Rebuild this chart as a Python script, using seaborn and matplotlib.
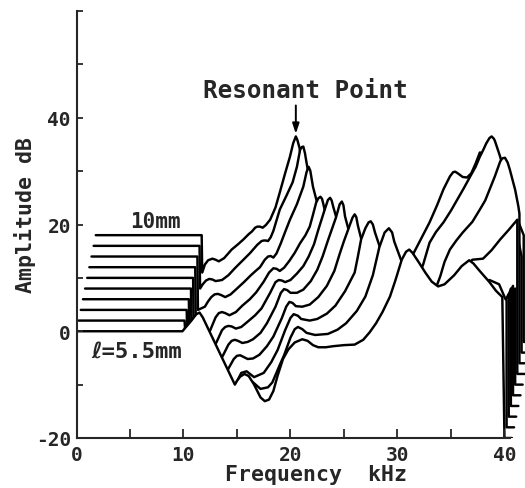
import matplotlib
matplotlib.use("Agg")
import matplotlib.pyplot as plt
import pandas as pd
import seaborn as sns

# ---- data: stacked waterfall curves as drawn (frequency kHz, amplitude dB) ----
lengths_mm = [5.5, 6.0, 6.5, 7.0, 7.5, 8.0, 8.5, 9.0, 9.5, 10.0]

freq_55 = [0, 9.9, 10.7, 11.2, 11.5, 11.8, 14.8, 15.0, 15.3, 15.7, 16.1, 16.6, 17.2, 17.6, 18.0, 18.4,
           18.8, 19.3, 19.8, 20.4, 21.1, 21.6, 22.1, 22.6, 23.3, 24.0, 25.0, 26.0, 26.8, 27.4, 28.0,
           28.6, 29.3, 29.8, 30.4, 30.8, 31.1, 31.4, 32.0, 32.6, 33.2, 33.8, 34.4, 35.3, 36.0, 36.7,
           37.1, 37.6, 38.6, 39.2, 39.8, 40.0, 40.7]
amp_55 = [0, 0, 1.9, 3.2, 3.5, 2.6, -10, -9.3, -8.5, -8.0, -8.4, -10.0, -12.4, -13.1, -12.8, -11.2,
          -8.3, -5.2, -3.4, -2.1, -1.5, -1.8, -2.6, -3.0, -3.0, -2.8, -2.6, -2.5, -1.6, -0.2, 1.5,
          3.6, 6.5, 9.5, 13.4, 14.9, 15.3, 14.7, 12.9, 11.0, 9.3, 8.4, 8.8, 10.5, 12.2, 13.3,
          12.7, 11.5, 9.2, 7.6, 6.4, -20, -20]

freq_60 = [0.2, 10.1, 10.15, 14.8, 15.3, 15.8, 16.4, 17.2, 17.9, 18.3, 18.6, 19.0, 19.4, 20.0, 20.4,
           20.7, 21.1, 21.5, 22.3, 23.5, 24.4, 25.2, 26.2, 27.0, 27.7, 28.3, 28.8, 29.2, 29.5, 29.7,
           30.4, 31.5, 34.0, 36.5, 37.6, 38.6, 39.5, 40.1, 40.2, 40.2, 40.9]
amp_60 = [2, 2, 0.3, -12, -9.5, -8.6, -9.4, -10.8, -10.5, -9.6, -8.2, -6.3, -4.5, -1.2, 0.4,
          0.8, 0.4, -0.3, -0.7, -0.5, 0.3, 1.5, 3.8, 6.5, 10.5, 15.7, 18.5, 19.3, 18.5, 16.8,
          13.0, 6, 4, 7, 8.8, 9.6, 8.8, 6.0, 5.8, -18, -18]

freq_65 = [0.4, 10.3, 10.35, 14.5, 14.9, 15.4, 15.9, 16.6, 17.5, 18.2, 18.8, 19.5, 20.0, 20.3, 20.7,
           21.0, 21.8, 22.5, 23.4, 24.2, 25.1, 26.0, 26.3, 26.6, 27.0, 27.3, 27.5, 27.7, 27.9, 28.4,
           29.5, 32.0, 36.0, 40.0, 40.4, 40.4, 41.1]
amp_65 = [4, 4, -1, -12.5, -9.8, -7.8, -7.5, -8.6, -7.8, -5.8, -3.5, 0.2, 2.5, 3.2, 2.9,
          2.3, 2.0, 2.3, 3.3, 4.8, 7.5, 11, 14, 17.2, 19.3, 20.4, 20.6, 20.0, 18.5, 15.5,
          6, 1, 3, 5.5, 7, -16, -16]

freq_70 = [0.6, 10.5, 10.55, 13.6, 14.2, 14.7, 15.0, 15.3, 15.6, 16.0, 16.5, 17.1, 17.8, 18.4, 19.2,
           19.6, 19.9, 20.2, 20.5, 21.1, 21.8, 22.6, 23.4, 24.1, 24.6, 25.0, 25.4, 25.8, 26.0, 26.15,
           26.3, 26.8, 28.0, 31.0, 35.0, 38.0, 40.2, 40.6, 40.6, 41.3]
amp_70 = [6, 6, -1, -9.5, -7.0, -5.2, -4.6, -4.5, -4.8, -5.2, -5.1, -4.4, -2.8, -1.0, 2.5,
          4.6, 5.5, 5.3, 4.7, 4.6, 5.0, 6.4, 8.5, 11.3, 14.5, 16.9, 19.1, 21.3, 21.9, 21.4,
          19.8, 15.8, 8, 2, 2, 4, 5.5, 8, -14, -14]

freq_75 = [0.8, 10.7, 10.75, 13.0, 13.7, 14.2, 14.5, 14.8, 15.1, 15.5, 16.0, 16.5, 17.2, 17.8, 18.6,
           19.1, 19.4, 19.7, 20.0, 20.6, 21.2, 21.9, 22.5, 23.0, 23.5, 24.25, 24.6, 24.8, 24.95, 25.1,
           25.5, 26.5, 29.0, 33.0, 37.0, 40.0, 40.8, 40.8, 41.5]
amp_75 = [8, 8, -1, -7, -4.5, -2.5, -1.8, -1.6, -1.8, -2.2, -2.0, -1.5, -0.3, 1.5, 4.6,
          7.2, 7.9, 7.7, 7.2, 7.2, 7.8, 9.4, 11.5, 14.0, 17.0, 21.3, 23.8, 24.3, 23.6, 21.5,
          18.5, 12, 3, 1, 3, 5, 8.5, -12, -12]

freq_80 = [1.0, 10.9, 10.95, 12.5, 13.1, 13.6, 13.9, 14.2, 14.5, 14.9, 15.4, 16.0, 16.7, 17.3, 18.1,
           18.6, 18.9, 19.2, 19.5, 20.0, 20.6, 21.2, 21.7, 22.2, 22.6, 23.2, 23.5, 23.7, 23.85, 24.0,
           24.4, 25.5, 28.0, 31.0, 35.0, 38.0, 40.0, 41.0, 41.0, 41.7]
amp_80 = [10, 10, -1, -4, -2.0, 0.2, 0.8, 1.0, 0.9, 0.5, 0.8, 1.8, 3.0, 4.3, 7.2,
          9.2, 9.6, 9.5, 9.2, 9.6, 10.8, 12.2, 14.0, 16.3, 19.0, 22.8, 24.6, 25.0, 24.5, 23.3,
          20.5, 10, 1, -1, 2, 4, 5, 8, -10, -10]

freq_85 = [1.2, 11.1, 11.15, 12.0, 12.5, 13.0, 13.3, 13.6, 13.9, 14.3, 14.9, 15.5, 16.2, 16.8, 17.5,
           18.0, 18.4, 18.7, 19.0, 19.4, 19.9, 20.4, 20.9, 21.4, 21.8, 22.1, 22.4, 22.6, 22.8, 22.95,
           23.1, 23.5, 24.5, 27.0, 30.0, 33.0, 35.5, 36.7, 37.0, 38.0, 38.8, 39.6, 40.4, 41.2, 41.2, 41.9]
amp_85 = [12, 12, 0.5, -1.5, 0.2, 2.6, 3.4, 3.6, 3.4, 3.0, 3.6, 4.8, 6.0, 7.3, 9.3,
          11.0, 11.8, 11.7, 11.3, 11.9, 13.2, 14.7, 16.5, 18.0, 19.6, 21.8, 24.1, 24.9, 25.2, 24.8,
          23.6, 20, 12, 3, 0, 2, 8, 12.8, 13.4, 13.6, 15.2, 17.2, 19.0, 20.9, -8, -8]

freq_90 = [1.4, 11.3, 11.35, 12.0, 12.3, 12.6, 12.9, 13.2, 13.5, 13.9, 14.4, 15.0, 15.7, 16.3, 16.8,
           17.15, 17.6, 17.9, 18.15, 18.4, 18.7, 19.1, 19.5, 19.95, 20.6, 21.2, 21.5, 21.7, 21.85, 22.1,
           22.5, 23.0, 25.0, 28.0, 31.0, 33.2, 34.0, 34.4, 34.9, 35.5, 36.1, 37.0, 37.7, 38.2, 38.6,
           39.1, 39.6, 39.8, 40.05, 40.3, 40.5, 41.0, 41.3, 41.4, 41.4, 42.1]
amp_90 = [14, 14, 4.0, 4.6, 5.6, 6.4, 6.9, 7.0, 6.8, 6.4, 6.9, 8.0, 9.3, 10.5, 11.4,
          12.0, 13.4, 14.0, 14.1, 13.8, 14.6, 16.5, 18.6, 20.9, 23.8, 27.1, 29.8, 30.8, 30.1, 27.1,
          24.0, 19, 9, 2, 1, 6, 10.3, 13, 15.3, 17, 18.5, 20.5, 22.8, 24.5, 26.5,
          29, 31.8, 32.4, 32.5, 31.6, 30.3, 26.5, 23.4, 22, -6, -6]

freq_95 = [1.6, 11.5, 11.55, 11.8, 12.1, 12.4, 12.7, 13.0, 13.6, 14.2, 14.8, 15.5, 16.2, 16.9, 17.3,
           17.5, 17.7, 17.9, 18.15, 18.4, 19.0, 19.6, 20.2, 20.6, 20.9, 21.05, 21.2, 21.35, 21.5, 22.0,
           23.5, 26.0, 29.0, 31.5, 32.4, 33.0, 33.6, 34.3, 35.0, 35.6, 36.2, 36.8, 37.3, 37.7, 38.0,
           38.3, 38.6, 38.8, 39.0, 39.1, 39.35, 39.6, 40.2, 40.8, 41.4, 41.6, 41.6, 42.3]
amp_95 = [16, 16, 8.0, 8.8, 9.5, 9.8, 9.7, 9.4, 9.6, 10.5, 11.8, 13.2, 14.6, 16.2, 16.9,
          17.0, 17.0, 16.9, 17.6, 18.8, 22.8, 25.3, 27.9, 30.8, 34.0, 34.5, 34.6, 33.4, 31.6, 26,
          14, 5, 3, 8, 12.5, 16.6, 18.6, 20.4, 22.6, 24.7, 26.8, 29.0, 30.8, 32.7, 33.9,
          35.2, 36.2, 36.5, 36.1, 35.7, 34.2, 32.7, 28, 22, 16, 14, -4, -4]

freq_100 = [1.8, 11.7, 11.75, 12.0, 12.3, 12.7, 13.0, 13.3, 13.8, 14.5, 15.1, 15.6, 16.1, 16.4, 16.7,
            16.9, 17.15, 17.4, 17.7, 18.1, 18.6, 19.0, 19.5, 19.95, 20.25, 20.5, 20.65, 20.85, 21.3, 22.5,
            25.0, 28.0, 30.5, 31.45, 32.2, 33.0, 33.7, 34.3, 34.9, 35.2, 35.4, 35.7, 36.1, 36.5, 36.9,
            37.3, 37.7, 38.3, 39.0, 40.0, 41.0, 41.8, 41.8, 42.5]
amp_100 = [18, 18, 11, 12.5, 13.3, 13.6, 13.4, 13.1, 13.7, 15.3, 16.3, 17.2, 18.2, 18.7, 19.4,
           19.6, 19.6, 19.4, 19.9, 20.9, 23.2, 26.0, 29.6, 32.7, 35.2, 36.5, 35.8, 34.3, 28, 18,
           8, 2, 8, 14.4, 17.3, 20.4, 23.6, 26.6, 29.0, 29.8, 29.9, 29.5, 28.9, 28.8, 29.6,
           31.4, 33.5, 33.0, 31.5, 28, 22, 18, -2, -2]

curves = [(freq_55, amp_55), (freq_60, amp_60), (freq_65, amp_65), (freq_70, amp_70), (freq_75, amp_75),
          (freq_80, amp_80), (freq_85, amp_85), (freq_90, amp_90), (freq_95, amp_95), (freq_100, amp_100)]

x_ticks = [0, 5, 10, 15, 20, 25, 30, 35, 40]
x_ticklabels = ["0", "", "10", "", "20", "", "30", "", "40"]
y_major = [-20, 0, 20, 40]
y_minor = [-10, 10, 30, 50, 60]

# ---- style ----
sns.set_style("ticks")
plt.rcParams["axes.unicode_minus"] = False
MONO = ["DejaVu Sans Mono", "DejaVu Sans"]

fig = plt.figure(figsize=(5.25, 4.89), dpi=100)
ax = fig.add_axes([76.5 / 525, 50 / 489, 1 - 76.5 / 525, 427 / 489])
ax.set_xlim(0, 41.92)
ax.set_ylim(-20, 60)

# back curves first; each front curve hides what lies below it
n = len(curves)
for k in range(n - 1, -1, -1):
    f, a = curves[k]
    z = 2 + (n - k) * 2
    ax.fill_between(f, a, -20, color="white", lw=0, zorder=z)
    df = pd.DataFrame({"f": f, "a": a})
    sns.lineplot(data=df, x="f", y="a", sort=False, estimator=None, color="black",
                 lw=1.75, ax=ax, zorder=z + 1, solid_joinstyle="round", solid_capstyle="round")

ax.set_xlabel("")
ax.set_ylabel("")
for side in ["top", "right"]:
    ax.spines[side].set_visible(False)
ax.spines["left"].set_linewidth(1.5)
ax.spines["bottom"].set_linewidth(1.5)
ax.spines["bottom"].set_bounds(0, 40.5)
for sp in ax.spines.values():
    sp.set_zorder(60)
ax.xaxis.set_zorder(60)
ax.yaxis.set_zorder(60)

ax.set_xticks(x_ticks)
ax.set_xticklabels(x_ticklabels)
ax.set_yticks(y_major)
ax.set_yticks(y_minor, minor=True)
ax.tick_params(axis="x", direction="in", length=6.5, width=1.3, pad=5, labelsize=14)
ax.tick_params(axis="y", which="both", direction="in", length=4.3, width=1.3, pad=4, labelsize=14)
for lab in ax.get_xticklabels() + ax.get_yticklabels():
    lab.set_family(MONO)
    lab.set_weight("bold")

fig.text(25 / 525, 1 - 215 / 489, "Amplitude dB", rotation=90, ha="center", va="center",
         family=MONO, weight="bold", size=15.5)
fig.text(316 / 525, 1 - 475 / 489, "Frequency  kHz", ha="center", va="center",
         family=MONO, weight="bold", size=15.5)

ax.text(11.8, 45.2, "Resonant Point", ha="left", va="center", family=MONO, weight="bold",
        size=17.5, zorder=70)
ax.annotate("", xy=(20.5, 37.0), xytext=(20.5, 42.3),
            arrowprops=dict(arrowstyle="-|>,head_width=0.2,head_length=0.6", color="black",
                            lw=1.4, shrinkA=0, shrinkB=0), zorder=70)
ax.text(7.34, 20.6, "10mm", ha="center", va="center", family=MONO, weight="bold", size=15, zorder=70)
ax.text(5.65, -3.7, "ℓ=5.5mm", ha="center", va="center", family=MONO, weight="bold", size=16, zorder=70)

fig.savefig("out.png", dpi=100)
